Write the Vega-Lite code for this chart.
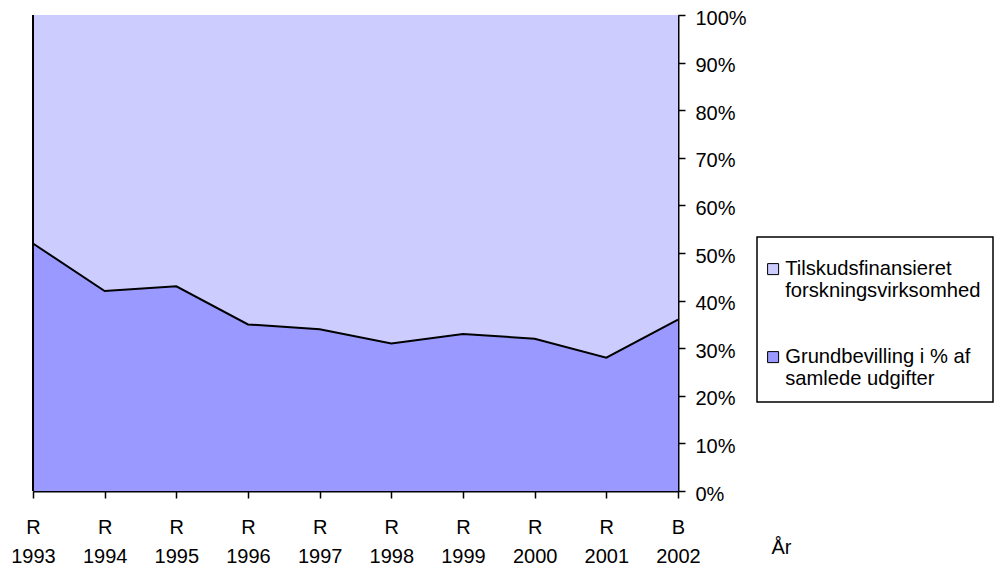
{
  "$schema": "https://vega.github.io/schema/vega-lite/v6.json",
  "width": 645,
  "height": 476,
  "autosize": {"type": "none"},
  "padding": {"left": 33, "top": 15, "right": 321, "bottom": 78},
  "background": "white",
  "config": {
    "font": "Liberation Sans",
    "view": {"stroke": "#808080", "strokeWidth": 1},
    "axis": {
      "labelFont": "Liberation Sans",
      "labelFontSize": 20,
      "labelColor": "black",
      "domainColor": "black",
      "tickColor": "black",
      "grid": false,
      "titleFont": "Liberation Sans",
      "titleFontWeight": "normal",
      "titleFontSize": 20,
      "titleColor": "black"
    },
    "legend": {
      "fillColor": "white",
      "strokeColor": "black",
      "strokeWidth": 1.5,
      "padding": 12,
      "labelFont": "Liberation Sans",
      "labelFontSize": 20.2,
      "labelColor": "black",
      "labelLimit": 400,
      "labelLineHeight": 24,
      "labelBaseline": "middle",
      "symbolType": "square",
      "symbolSize": 121,
      "symbolStrokeColor": "black",
      "symbolStrokeWidth": 1,
      "symbolOpacity": 1,
      "symbolOffset": -6,
      "rowPadding": 45,
      "labelOffset": 2,
      "titleFontSize": 6,
      "titlePadding": 4
    }
  },
  "data": {
    "values": [
      {"x": "R 1993", "series": "Grundbevilling i % af samlede udgifter", "value": 52},
      {"x": "R 1993", "series": "Tilskudsfinansieret forskningsvirksomhed", "value": 48},
      {"x": "R 1994", "series": "Grundbevilling i % af samlede udgifter", "value": 42},
      {"x": "R 1994", "series": "Tilskudsfinansieret forskningsvirksomhed", "value": 58},
      {"x": "R 1995", "series": "Grundbevilling i % af samlede udgifter", "value": 43},
      {"x": "R 1995", "series": "Tilskudsfinansieret forskningsvirksomhed", "value": 57},
      {"x": "R 1996", "series": "Grundbevilling i % af samlede udgifter", "value": 35},
      {"x": "R 1996", "series": "Tilskudsfinansieret forskningsvirksomhed", "value": 65},
      {"x": "R 1997", "series": "Grundbevilling i % af samlede udgifter", "value": 34},
      {"x": "R 1997", "series": "Tilskudsfinansieret forskningsvirksomhed", "value": 66},
      {"x": "R 1998", "series": "Grundbevilling i % af samlede udgifter", "value": 31},
      {"x": "R 1998", "series": "Tilskudsfinansieret forskningsvirksomhed", "value": 69},
      {"x": "R 1999", "series": "Grundbevilling i % af samlede udgifter", "value": 33},
      {"x": "R 1999", "series": "Tilskudsfinansieret forskningsvirksomhed", "value": 67},
      {"x": "R 2000", "series": "Grundbevilling i % af samlede udgifter", "value": 32},
      {"x": "R 2000", "series": "Tilskudsfinansieret forskningsvirksomhed", "value": 68},
      {"x": "R 2001", "series": "Grundbevilling i % af samlede udgifter", "value": 28},
      {"x": "R 2001", "series": "Tilskudsfinansieret forskningsvirksomhed", "value": 72},
      {"x": "B 2002", "series": "Grundbevilling i % af samlede udgifter", "value": 36},
      {"x": "B 2002", "series": "Tilskudsfinansieret forskningsvirksomhed", "value": 64}
    ]
  },
  "layer": [
    {
      "mark": {"type": "area", "opacity": 1},
      "encoding": {
        "x": {
          "field": "x",
          "type": "ordinal",
          "scale": {"type": "point", "padding": 0, "domain": ["R 1993", "R 1994", "R 1995", "R 1996", "R 1997", "R 1998", "R 1999", "R 2000", "R 2001", "B 2002"]},
          "axis": {
            "labelExpr": "split(datum.label, ' ')",
            "labelAngle": 0,
            "labelLineHeight": 29,
            "labelBaseline": "top",
            "labelFlush": false,
            "labelOverlap": false,
            "tickSize": 7,
            "tickWidth": 1.5,
            "domainWidth": 2,
            "labelPadding": 19,
            "title": "År",
            "titleX": 748,
            "titleY": 62,
            "titleAlign": "center",
            "titleBaseline": "alphabetic"
          }
        },
        "y": {
          "field": "value",
          "type": "quantitative",
          "stack": "zero",
          "scale": {"domain": [0, 100], "nice": false},
          "axis": {
            "orient": "right",
            "values": [0, 10, 20, 30, 40, 50, 60, 70, 80, 90, 100],
            "labelExpr": "datum.value + '%'",
            "tickSize": 7,
            "tickWidth": 1.5,
            "domainWidth": 2,
            "labelPadding": 10,
            "labelOffset": 3,
            "labelAlign": "left",
            "title": null
          }
        },
        "color": {
          "field": "series",
          "type": "nominal",
          "scale": {
            "domain": ["Tilskudsfinansieret forskningsvirksomhed", "Grundbevilling i % af samlede udgifter"],
            "range": ["#CCCCFF", "#9999FF"]
          },
          "legend": {
            "orient": "none",
            "legendX": 724,
            "legendY": 222,
            "title": " ",
            "labelExpr": "datum.label == 'Tilskudsfinansieret forskningsvirksomhed' ? ['Tilskudsfinansieret', 'forskningsvirksomhed'] : ['Grundbevilling i % af', 'samlede udgifter']"
          }
        },
        "order": {"field": "series", "sort": "ascending"}
      }
    },
    {
      "transform": [{"filter": "datum.series == 'Grundbevilling i % af samlede udgifter'"}],
      "mark": {"type": "line", "color": "black", "strokeWidth": 2},
      "encoding": {
        "x": {"field": "x", "type": "ordinal"},
        "y": {"field": "value", "type": "quantitative"}
      }
    },
    {
      "mark": {"type": "rule", "color": "black", "strokeWidth": 1.5},
      "encoding": {"x": {"datum": "R 1993"}}
    }
  ]
}
